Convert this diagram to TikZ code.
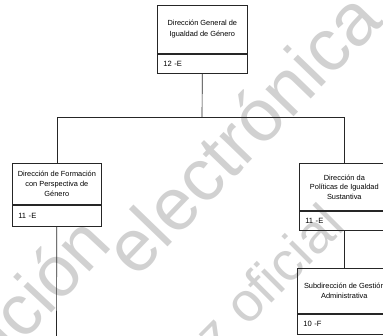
\documentclass[tikz,border=0pt]{standalone}
\usepackage{fontspec}
\setmainfont{Liberation Sans}
\begin{document}
\begin{tikzpicture}[x=1pt,y=-1pt,
  line/.style={draw=black!85, line width=0.65pt},
  head/.style={line, rectangle, anchor=north west, inner sep=0pt, align=center},
  cell/.style={line, rectangle, anchor=north west, inner xsep=6pt, inner ysep=0pt, align=left, font=\fontsize{7.6}{9}\selectfont},
  wm/.style={text=black!18, inner sep=0pt}
]
\useasboundingbox (0,0) rectangle (383,335);
\clip (0,0) rectangle (383,335);
% watermark
\node[wm, font=\fontsize{72}{80}\selectfont, rotate=47, anchor=base east] (wm1) at (114,246) {Publicación};
\node[wm, font=\fontsize{74}{80}\selectfont, rotate=46, anchor=base west] (wm2) at (136,280) {electrónica};
\node[wm, font=\fontsize{55}{65}\selectfont, rotate=45, anchor=base east] (wm3) at (347,228) {sin validez oficial};
% boxes
\node[head, minimum width=90pt, minimum height=48pt, font=\fontsize{7.4}{11}\selectfont] (dgh) at (157,5) {Dirección General de\\Igualdad de Género};
\node[cell, minimum height=19pt, text width=78pt] (dgc) at (dgh.south west) {12 -E};
\node[head, minimum width=89pt, minimum height=41pt, font=\fontsize{7.4}{10}\selectfont] (lh) at (12,163) {Dirección de Formación\\con Perspectiva de\\Género};
\node[cell, minimum height=21pt, text width=77pt] (lc) at (lh.south west) {11 -E};
\node[head, minimum width=90pt, minimum height=47pt, font=\fontsize{7.4}{9.5}\selectfont] (rh) at (299,163) {Dirección da\\Políticas de Igualdad\\Sustantiva};
\node[cell, minimum height=19pt, text width=78pt] (rc) at (rh.south west) {11 -E};
\node[head, minimum width=94pt, minimum height=45pt, font=\fontsize{7.4}{9.5}\selectfont] (sh) at (297,268) {Subdirección de Gestión\\Administrativa};
\node[cell, minimum height=20pt, text width=82pt] (sc) at (sh.south west) {10 -F};
% connectors
\coordinate (bus) at (202,117);
\coordinate (lend) at (56.5,336);
\draw[line] (dgc.south) -- (bus);
\draw[line] (lh.north) |- (bus);
\draw[line] (rh.north) |- (bus);
\draw[line] (rc.south) -- (sh.north);
\draw[line] (lc.south) -- (lend);
\end{tikzpicture}
\end{document}
